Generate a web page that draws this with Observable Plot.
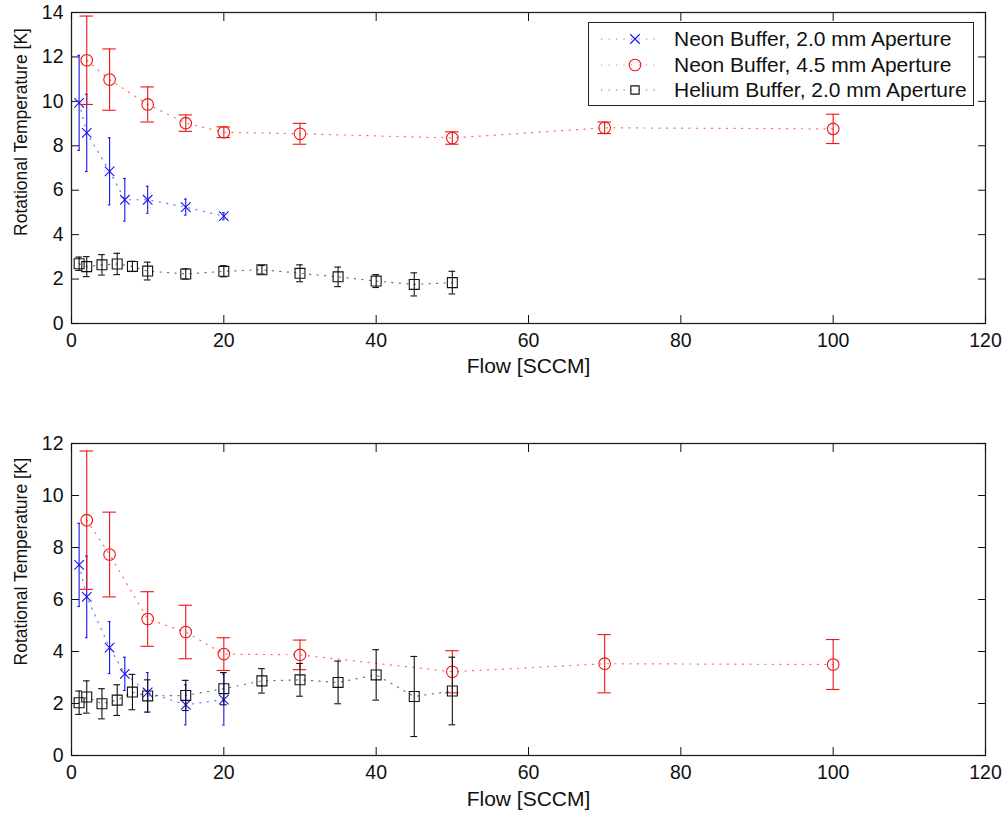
<!DOCTYPE html>
<html>
<head>
<meta charset="utf-8">
<script src="https://cdn.jsdelivr.net/npm/d3@7"></script>
<script src="https://cdn.jsdelivr.net/npm/@observablehq/plot@0.6"></script>
<style>
  html, body { margin: 0; padding: 0; background: #fff; }
  #wrap { position: relative; width: 1006px; height: 816px; font-family: "Liberation Sans", Arial, sans-serif; }
  #wrap svg.plot { position: absolute; left: 0; display: block; }
  #legend { position: absolute; left: 588px; top: 22px; width: 386px; height: 84px; box-sizing: border-box;
            border: 1.2px solid #222; background: #fff; }
  #legend .row { position: absolute; left: 0; height: 26px; display: flex; align-items: center; }
  #legend .row span { font-size: 21px; color: #111; margin-left: 12px; white-space: nowrap; }
</style>
</head>
<body>
<div id="wrap"></div>
<script>
// ---------- data ----------
const seriesNames = ["Neon Buffer, 2.0 mm Aperture", "Neon Buffer, 4.5 mm Aperture", "Helium Buffer, 2.0 mm Aperture"];
const xTicks = [0, 20, 40, 60, 80, 100, 120];
const yTicksTop = [0, 2, 4, 6, 8, 10, 12, 14];
const yTicksBottom = [0, 2, 4, 6, 8, 10, 12];
const xLabel = "Flow [SCCM]";
const yLabel = "Rotational Temperature [K]";

// Neon buffer, 2.0 mm aperture
const flowNe20 = [1, 2, 5, 7, 10, 15, 20];
const tempNe20Top = [9.93, 8.58, 6.85, 5.57, 5.57, 5.24, 4.83];
const errNe20Top = [2.14, 1.74, 1.51, 0.96, 0.61, 0.36, 0.16];
const tempNe20Bottom = [7.33, 6.10, 4.15, 3.14, 2.43, 1.95, 2.15];
const errNe20Bottom = [1.60, 1.57, 1.00, 0.64, 0.76, 0.77, 0.98];

// Neon buffer, 4.5 mm aperture
const flowNe45 = [2, 5, 10, 15, 20, 30, 50, 70, 100];
const tempNe45Top = [11.85, 10.98, 9.86, 9.02, 8.61, 8.54, 8.35, 8.81, 8.76];
const errNe45Top = [1.99, 1.38, 0.79, 0.37, 0.24, 0.47, 0.28, 0.26, 0.66];
const tempNe45Bottom = [9.05, 7.73, 5.25, 4.75, 3.90, 3.87, 3.22, 3.53, 3.50];
const errNe45Bottom = [2.66, 1.63, 1.05, 1.03, 0.63, 0.57, 0.81, 1.12, 0.96];

// Helium buffer, 2.0 mm aperture
const flowHe20 = [1, 2, 4, 6, 8, 10, 15, 20, 25, 30, 35, 40, 45, 50];
const tempHe20Top = [2.69, 2.56, 2.64, 2.68, 2.57, 2.36, 2.23, 2.35, 2.42, 2.26, 2.10, 1.91, 1.76, 1.84];
const errHe20Top = [0.30, 0.45, 0.46, 0.48, 0.23, 0.40, 0.23, 0.25, 0.19, 0.38, 0.44, 0.29, 0.52, 0.51];
const tempHe20Bottom = [2.03, 2.25, 1.99, 2.13, 2.44, 2.29, 2.31, 2.57, 2.87, 2.91, 2.81, 3.10, 2.27, 2.48];
const errHe20Bottom = [0.45, 0.62, 0.58, 0.59, 0.68, 0.62, 0.58, 0.62, 0.47, 0.63, 0.82, 0.97, 1.54, 1.30];

const colors = ["#1515ee", "#ee1515", "#111111"];
const symbols = ["times", "circle", "square"];
const radii = [4.4, 5.8, 5.6];

function rows(flow, temp, err) {
  return flow.map((x, i) => ({x, y: temp[i], e: err[i]}));
}

function seriesMarks(data, k) {
  const c = colors[k];
  const xs = data.map(d => d.x);
  const tee = (d3.max(xs) - d3.min(xs)) / 100 * 0.9; // half width of caps, MATLAB style
  return [
    Plot.ruleX(data, {x: "x", y1: d => d.y - d.e, y2: d => d.y + d.e, stroke: c, strokeWidth: 1.1}),
    Plot.ruleY(data, {y: d => d.y + d.e, x1: d => d.x - tee, x2: d => d.x + tee, stroke: c, strokeWidth: 1.1}),
    Plot.ruleY(data, {y: d => d.y - d.e, x1: d => d.x - tee, x2: d => d.x + tee, stroke: c, strokeWidth: 1.1}),
    Plot.line(data, {x: "x", y: "y", stroke: c, strokeWidth: 1.2, strokeDasharray: "1.2,6.3", strokeOpacity: 0.6}),
    Plot.dot(data, {x: "x", y: "y", symbol: symbols[k], r: radii[k], stroke: c, fill: "none", strokeWidth: 1.1})
  ];
}

function makeChart({datasets, yDomain, yTicks, height, marginTop, marginBottom, ylabelDy, xlabelDy}) {
  const svg = Plot.plot({
    width: 1006,
    height,
    marginLeft: 71,
    marginRight: 21,
    marginTop,
    marginBottom,
    style: {fontFamily: "'Liberation Sans', Arial, sans-serif", fontSize: "19.5px", color: "#111", background: "#fff", overflow: "visible"},
    x: {domain: [0, 120]},
    y: {domain: yDomain},
    marks: [
      Plot.frame({stroke: "#222", strokeWidth: 1.3}),
      Plot.axisX(xTicks, {anchor: "bottom", tickSize: -8, tickPadding: 18, label: null}),
      Plot.axisX(xTicks, {anchor: "top", tickSize: -8, tickFormat: () => "", label: null}),
      Plot.axisY(yTicks, {anchor: "left", tickSize: -8, tickPadding: 16, label: null}),
      Plot.axisY(yTicks, {anchor: "right", tickSize: -8, tickFormat: () => "", label: null}),
      ...datasets.flatMap((d, k) => seriesMarks(d, k)),
      Plot.text([xLabel], {frameAnchor: "bottom", dy: xlabelDy, fontSize: 21, lineAnchor: "middle", textAnchor: "middle", fill: "#111"}),
      Plot.text([yLabel], {frameAnchor: "left", rotate: -90, dx: -50, dy: ylabelDy, fontSize: 17.5, lineAnchor: "middle", textAnchor: "middle", fill: "#111"})
    ]
  });
  svg.classList.add("plot");
  return svg;
}

const wrap = document.getElementById("wrap");

const topChart = makeChart({
  datasets: [rows(flowNe20, tempNe20Top, errNe20Top), rows(flowNe45, tempNe45Top, errNe45Top), rows(flowHe20, tempHe20Top, errHe20Top)],
  yDomain: [0, 14], yTicks: yTicksTop, height: 380, marginTop: 12, marginBottom: 57, ylabelDy: -36, xlabelDy: 43
});
topChart.style.top = "0px";
wrap.appendChild(topChart);

const bottomChart = makeChart({
  datasets: [rows(flowNe20, tempNe20Bottom, errNe20Bottom), rows(flowNe45, tempNe45Bottom, errNe45Bottom), rows(flowHe20, tempHe20Bottom, errHe20Bottom)],
  yDomain: [0, 12], yTicks: yTicksBottom, height: 436, marginTop: 63, marginBottom: 61, ylabelDy: -38, xlabelDy: 44
});
bottomChart.style.top = "380px";
wrap.appendChild(bottomChart);

// ---------- legend ----------
const legend = document.createElement("div");
legend.id = "legend";
wrap.appendChild(legend);
const rowTops = [3, 28.5, 54];
seriesNames.forEach((name, k) => {
  const row = document.createElement("div");
  row.className = "row";
  row.style.top = rowTops[k] + "px";
  row.style.left = "11px";
  const s = d3.create("svg").attr("width", 62).attr("height", 26);
  s.append("line").attr("x1", 1).attr("x2", 61).attr("y1", 13).attr("y2", 13)
    .attr("stroke", colors[k]).attr("stroke-width", 1.2).attr("stroke-dasharray", "1.2,6.3").attr("stroke-opacity", 0.6);
  const sym = d3.symbol().type(k === 0 ? d3.symbolTimes : k === 1 ? d3.symbolCircle : d3.symbolSquare)
    .size(Math.PI * radii[k] * radii[k] * (k === 2 ? 0.7 : 1));
  s.append("path").attr("d", sym()).attr("transform", "translate(35,13)")
    .attr("fill", "none").attr("stroke", colors[k]).attr("stroke-width", 1.1);
  row.appendChild(s.node());
  const t = document.createElement("span");
  t.textContent = name;
  row.appendChild(t);
  legend.appendChild(row);
});
</script>
</body>
</html>
